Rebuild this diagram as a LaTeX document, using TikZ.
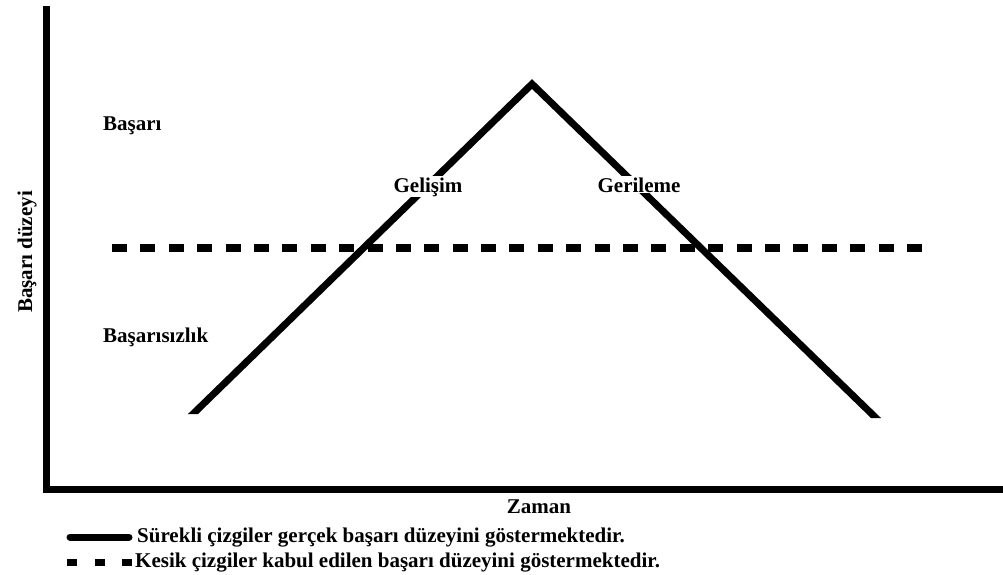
\documentclass[tikz,border=0pt]{standalone}
\usepackage{fontspec}
\setmainfont{Liberation Serif}
\begin{document}
\begin{tikzpicture}[x=1pt,y=-1pt,
  lbl/.style={font=\fontsize{21}{23}\selectfont\bfseries, inner sep=0pt},
  axisline/.style={line width=7pt, line join=miter},
  realline/.style={line width=7pt, line join=miter},
  acceptline/.style={line width=8pt, dash pattern=on 15pt off 13.39pt},
  legsolid/.style={line width=7pt, line cap=round},
  legdash/.style={line width=7pt, dash pattern=on 10pt off 17.5pt}]
\useasboundingbox (0,0) rectangle (1003,575);
% axes
\coordinate (top) at (46,6);
\coordinate (origin) at (46,489);
\coordinate (xend) at (1003,489);
\draw[axisline] (top) -- (origin) -- (xend);
% accepted level (dashed)
\coordinate (dstart) at (112,248);
\coordinate (dend) at (922,248);
\draw[acceptline] (dstart) -- (dend);
% real level (solid), ends cut horizontally
\coordinate (rstart) at (182.7,424);
\coordinate (peak) at (532,84);
\coordinate (rend) at (886.3,428);
\begin{scope}
  \clip (0,0) -- (1003,0) -- (1003,418) -- (532,418) -- (532,414) -- (0,414) -- cycle;
  \draw[realline] (rstart) -- (peak) -- (rend);
\end{scope}
% labels
\node[lbl, anchor=base west] (basari) at (103,130) {Başarı};
\node[lbl, anchor=base west] (basarisiz) at (103,342) {Başarısızlık};
\node[lbl, fill=white, inner sep=1pt, anchor=base] (gelisim) at (428,192) {Gelişim};
\node[lbl, fill=white, inner sep=1pt, anchor=base] (gerileme) at (639,192) {Gerileme};
\node[lbl, rotate=90, anchor=base] (ylabel) at (32,252) {Başarı düzeyi};
\node[lbl, anchor=base] (zaman) at (539,513) {Zaman};
% legend
\coordinate (l1a) at (70,537);
\coordinate (l1b) at (129,537);
\draw[legsolid] (l1a) -- (l1b);
\node[lbl, anchor=base west] (leg1) at (137,542) {Sürekli çizgiler gerçek başarı düzeyini göstermektedir.};
\coordinate (l2a) at (67,562);
\coordinate (l2b) at (132,562);
\draw[legdash] (l2a) -- (l2b);
\node[lbl, anchor=base west] (leg2) at (135,567) {Kesik çizgiler kabul edilen başarı düzeyini göstermektedir.};
\end{tikzpicture}
\end{document}
